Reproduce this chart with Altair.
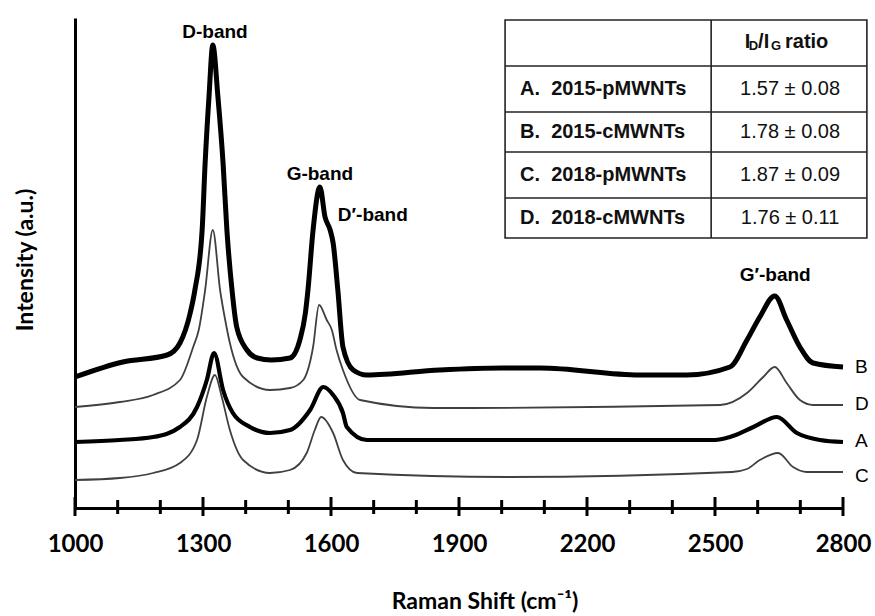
import altair as alt
import pandas as pd

# ---------------- spectra (x: Raman shift cm-1, y: intensity a.u.) ----------------
B_x = [1000, 1112, 1216, 1246, 1270, 1281, 1298, 1305, 1314, 1323, 1335, 1347, 1356, 1368, 1379, 1403, 1427,
       1460, 1504, 1527, 1540, 1546, 1558, 1574, 1586, 1598, 1605, 1616, 1628, 1652, 1684, 1855, 2000, 2090,
       2324, 2434, 2535, 2575, 2605, 2640, 2668, 2699, 2730, 2800]
B_y = [131, 146, 153, 165, 195, 218, 278, 345, 411, 463, 411, 345, 278, 218, 181, 158, 150,
       148, 150, 168, 195, 218, 278, 321, 291, 278, 265, 218, 161, 138, 133, 138, 140, 140,
       133, 133, 141, 168, 191, 212, 188, 161, 145, 141]

D_x = [1000, 1105, 1183, 1246, 1277, 1290, 1305, 1323, 1340, 1352, 1363, 1394, 1457, 1504, 1535, 1558, 1572,
       1590, 1602, 1613, 1628, 1668, 1840, 2512, 2575, 2613, 2640, 2668, 2699, 2730, 2800]
D_y = [101, 106, 113, 128, 161, 178, 218, 278, 218, 188, 165, 131, 118, 120, 128, 161, 203,
       188, 178, 158, 138, 108, 100, 103, 115, 131, 141, 125, 108, 103, 103]

A_x = [1000, 1105, 1183, 1246, 1286, 1309, 1326, 1347, 1370, 1410, 1457, 1504, 1551, 1582, 1605, 1628, 1637,
       1684, 2500, 2535, 2590, 2645, 2692, 2746, 2800]
A_y = [66, 68, 71, 81, 101, 128, 155, 118, 95, 81, 75, 78, 98, 121, 113, 95, 81,
       68, 68, 71, 81, 91, 75, 68, 66]

C_x = [1000, 1105, 1183, 1246, 1286, 1309, 1328, 1344, 1363, 1394, 1457, 1504, 1543, 1562, 1577, 1605, 1628,
       1661, 2012, 2540, 2575, 2605, 2648, 2683, 2715, 2800]
C_y = [28, 30, 35, 45, 68, 111, 133, 111, 78, 48, 35, 38, 55, 78, 91, 75, 48,
       35, 31, 36, 39, 48, 55, 41, 36, 36]

series_names = ["B", "D", "A", "C"]
series_colors = ["#000000", "#404040", "#000000", "#404040"]
series_widths = [5.0, 1.8, 4.2, 1.8]
end_label_y = [141, 104, 67, 32]

major_ticks = [1000, 1300, 1600, 1900, 2200, 2500, 2800]
minor_ticks = [1100, 1200, 1400, 1500, 1700, 1800, 2000, 2100, 2300, 2400, 2600, 2700]

band_names = ["D-band", "G-band", "D\u2032-band", "G\u2032-band"]
band_x = [1328, 1574, 1698, 2641]
band_y = [476, 334, 293, 233]

# ---------------- inset table ----------------
row_labels = ["A.\u00a0\u00a02015-pMWNTs", "B.\u00a0\u00a02015-cMWNTs",
              "C.\u00a0\u00a02018-pMWNTs", "D.\u00a0\u00a02018-cMWNTs"]
row_values = ["1.57 \u00b1 0.08", "1.78 \u00b1 0.08", "1.87 \u00b1 0.09", "1.76 \u00b1 0.11"]
table_left, table_mid, table_right = 2008, 2491, 2856
table_top, table_bottom = 488, 270
row_lines = [442, 396, 356, 310]
row_centers = [419, 376, 333, 290]
header_y = 466

FONT_AX = "Lato"
FONT_TX = "Liberation Sans"

xscale = alt.Scale(domain=[1000, 2800], nice=False, zero=False)
yscale = alt.Scale(domain=[0, 490], nice=False, zero=False)

base_x_axis = alt.Axis(values=major_ticks, format="d", labelFont=FONT_AX, labelFontSize=24,
                       labelFontWeight="bold", labelColor="black", ticks=False, tickSize=0,
                       labelFlush=False, labelOverlap=False,
                       labelPadding=24, domainColor="black", domainWidth=3, grid=False, title=None)
base_y_axis = alt.Axis(labels=False, ticks=False, tickSize=0, domainColor="black", domainWidth=3,
                       grid=False, title=None)

line_layers = []
for name, xs, ys, col, w in zip(series_names, [B_x, D_x, A_x, C_x], [B_y, D_y, A_y, C_y],
                                series_colors, series_widths):
    df = pd.DataFrame({"x": xs, "y": ys})
    line_layers.append(
        alt.Chart(df).mark_line(interpolate="monotone", strokeJoin="round", color=col,
                                strokeWidth=w).encode(
            x=alt.X("x:Q", scale=xscale, axis=base_x_axis),
            y=alt.Y("y:Q", scale=yscale, axis=base_y_axis),
        )
    )

tick_df = pd.DataFrame(
    [{"x": t, "y1": 11, "y2": -8} for t in major_ticks] +
    [{"x": t, "y1": 8, "y2": -6} for t in minor_ticks]
)
ticks = alt.Chart(tick_df).mark_rule(color="black", strokeWidth=3).encode(
    x=alt.X("x:Q", scale=xscale), y=alt.Y("y1:Q", scale=yscale), y2="y2:Q"
)

end_df = pd.DataFrame({"t": series_names, "x": [2828] * 4, "y": end_label_y})
end_labels = alt.Chart(end_df).mark_text(align="left", baseline="middle", font=FONT_TX,
                                         fontSize=19, color="black").encode(
    x=alt.X("x:Q", scale=xscale), y=alt.Y("y:Q", scale=yscale), text="t:N")

band_df = pd.DataFrame({"t": band_names, "x": band_x, "y": band_y})
band_labels = alt.Chart(band_df).mark_text(align="center", baseline="middle", font=FONT_TX,
                                           fontSize=19, fontWeight="bold", color="black").encode(
    x=alt.X("x:Q", scale=xscale), y=alt.Y("y:Q", scale=yscale), text="t:N")

# axis titles
title_df = pd.DataFrame({"t": ["Raman Shift (cm\u207b\u00b9)"], "x": [1961], "y": [-94]})
x_title = alt.Chart(title_df).mark_text(align="center", baseline="middle", font=FONT_AX,
                                        fontSize=23, fontWeight="bold", color="black").encode(
    x=alt.X("x:Q", scale=xscale), y=alt.Y("y:Q", scale=yscale), text="t:N")
ytitle_df = pd.DataFrame({"t": ["Intensity (a.u.)"], "x": [885], "y": [248]})
y_title = alt.Chart(ytitle_df).mark_text(align="center", baseline="middle", font=FONT_AX, angle=270,
                                         fontSize=23, fontWeight="bold", color="black").encode(
    x=alt.X("x:Q", scale=xscale), y=alt.Y("y:Q", scale=yscale), text="t:N")

# table
box_df = pd.DataFrame({"x": [table_left], "x2": [table_right], "y": [table_bottom], "y2": [table_top]})
box = alt.Chart(box_df).mark_rect(fill="white", stroke="#222222", strokeWidth=1.6).encode(
    x=alt.X("x:Q", scale=xscale), x2="x2:Q", y=alt.Y("y:Q", scale=yscale), y2="y2:Q")
hl_df = pd.DataFrame({"x": [table_left] * 4, "x2": [table_right] * 4, "y": row_lines})
hlines = alt.Chart(hl_df).mark_rule(color="#222222", strokeWidth=1.6).encode(
    x=alt.X("x:Q", scale=xscale), x2="x2:Q", y=alt.Y("y:Q", scale=yscale))
vl_df = pd.DataFrame({"x": [table_mid], "y": [table_bottom], "y2": [table_top]})
vline = alt.Chart(vl_df).mark_rule(color="#222222", strokeWidth=1.6).encode(
    x=alt.X("x:Q", scale=xscale), y=alt.Y("y:Q", scale=yscale), y2="y2:Q")

lab_df = pd.DataFrame({"t": row_labels, "x": [2043] * 4, "y": row_centers})
row_lab = alt.Chart(lab_df).mark_text(align="left", baseline="middle", font=FONT_TX, fontSize=20,
                                      fontWeight="bold", color="#111111").encode(
    x=alt.X("x:Q", scale=xscale), y=alt.Y("y:Q", scale=yscale), text="t:N")
val_df = pd.DataFrame({"t": row_values, "x": [2676] * 4, "y": row_centers})
row_val = alt.Chart(val_df).mark_text(align="center", baseline="middle", font=FONT_TX, fontSize=20,
                                      color="#111111").encode(
    x=alt.X("x:Q", scale=xscale), y=alt.Y("y:Q", scale=yscale), text="t:N")

# header I_D/I_G ratio, built from pieces
hdr_big = pd.DataFrame({"t": ["I", "/I", "ratio"], "x": [2570, 2601, 2664], "y": [header_y] * 3})
hdr_sub = pd.DataFrame({"t": ["D", "G"], "x": [2579, 2631], "y": [header_y - 4] * 2})
hdr1 = alt.Chart(hdr_big).mark_text(align="left", baseline="middle", font=FONT_TX, fontSize=20,
                                    fontWeight="bold", color="#111111").encode(
    x=alt.X("x:Q", scale=xscale), y=alt.Y("y:Q", scale=yscale), text="t:N")
hdr2 = alt.Chart(hdr_sub).mark_text(align="left", baseline="middle", font=FONT_TX, fontSize=13,
                                    fontWeight="bold", color="#111111").encode(
    x=alt.X("x:Q", scale=xscale), y=alt.Y("y:Q", scale=yscale), text="t:N")

chart = alt.layer(
    *line_layers, ticks, end_labels, band_labels, x_title, y_title,
    box, hlines, vline, row_lab, row_val, hdr1, hdr2
).properties(
    width=768, height=490,
    autosize=alt.AutoSizeParams(type="none"),
    padding={"left": 75, "top": 18, "right": 32, "bottom": 108},
    background="white",
).configure_view(stroke=None)

chart.save("out.html", embed_options={"renderer": "svg", "actions": False})
